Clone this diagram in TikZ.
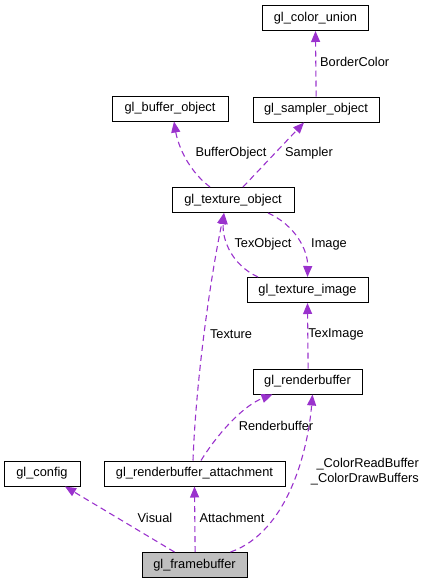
\documentclass[tikz,border=0pt]{standalone}
\usepackage{fontspec}
\setmainfont{Liberation Sans}
\usetikzlibrary{arrows.meta,calc}
\definecolor{edgec}{HTML}{9A32CD}
\definecolor{fbfill}{HTML}{BFBFBF}
\begin{document}
\begin{tikzpicture}[x=1pt,y=-1pt,
 cls/.style={draw=black,line width=1pt,minimum height=25pt,inner sep=0pt,font=\fontsize{12.8}{15}\selectfont},
 dep/.style={draw=edgec,dash pattern=on 6pt off 4pt,line width=1.1pt,-{Triangle[length=11pt,width=9pt,fill=edgec]}},
 lbl/.style={font=\fontsize{12.8}{15}\selectfont,inner sep=0pt}]
\useasboundingbox (0,0) rectangle (427,584);
% classes
\node[cls,minimum width=106pt] (cu) at (315.5,18) {gl\_color\_union};
\node[cls,minimum width=126pt] (so) at (316,109.5) {gl\_sampler\_object};
\node[cls,minimum width=116pt] (bo) at (170,108.5) {gl\_buffer\_object};
\node[cls,minimum width=122pt] (to) at (233,200) {gl\_texture\_object};
\node[cls,minimum width=121pt] (ti) at (307.5,290) {gl\_texture\_image};
\node[cls,minimum width=109pt] (rb) at (307.5,381.5) {gl\_renderbuffer};
\node[cls,minimum width=76pt] (cfg) at (42,473.5) {gl\_config};
\node[cls,minimum width=181pt] (rba) at (194.5,473.5) {gl\_renderbuffer\_attachment};
\node[cls,minimum width=105pt,fill=fbfill] (fb) at (194.5,565) {gl\_framebuffer};
% connectors
\draw[dep] ($(so.north -| cu.south)+(0.6,0)$) -- (cu.south);
\draw[dep] ($(to.north)+(-23,0)$) .. controls (185,168) and (177,140) .. ($(bo.south)+(4,0)$);
\draw[dep] ($(to.north)+(10,0)$) -- ($(so.south)+(-12,0)$);
\draw[dep] ($(ti.north)+(-49.5,0)$) .. controls (232,265) and (222,240) .. ($(to.south)+(-9,0)$);
\draw[dep] ($(to.south)+(35,0)$) .. controls (295,225) and (308,250) .. (ti.north);
\draw[dep] ($(rb.north)+(0.6,0)$) -- (ti.south);
\draw[dep] ($(rba.north)+(-1.5,0)$) .. controls (196,380) and (210,280) .. ($(to.south)+(-9,0)$);
\draw[dep] ($(rba.north)+(6.5,0)$) .. controls (220,430) and (245,405) .. ($(rb.south)+(-35,0)$);
\draw[dep] ($(fb.north)+(-20,0)$) -- ($(cfg.south)+(23,0)$);
\draw[dep] ($(fb.north)+(0.6,0)$) -- (rba.south);
\draw[dep] ($(fb.north)+(36,0)$) .. controls (288,532) and (308,450) .. ($(rb.south)+(5,0)$);
% labels
\node[lbl,anchor=west] (lbc) at (320,62) {BorderColor};
\node[lbl] (lbo) at (231,153) {BufferObject};
\node[lbl] (lsa) at (309,153) {Sampler};
\node[lbl] (lto) at (263,244) {TexObject};
\node[lbl] (lim) at (329,244) {Image};
\node[lbl] (lti) at (336,334) {TexImage};
\node[lbl] (ltx) at (231,334) {Texture};
\node[lbl] (lrb) at (276,426) {Renderbuffer};
\node[lbl] (lvi) at (155,518) {Visual};
\node[lbl] (lat) at (232,518) {Attachment};
\node[lbl,anchor=east,align=right] (lcb) at (419,471.5) {\_ColorReadBuffer\\\_ColorDrawBuffers};
\end{tikzpicture}
\end{document}
